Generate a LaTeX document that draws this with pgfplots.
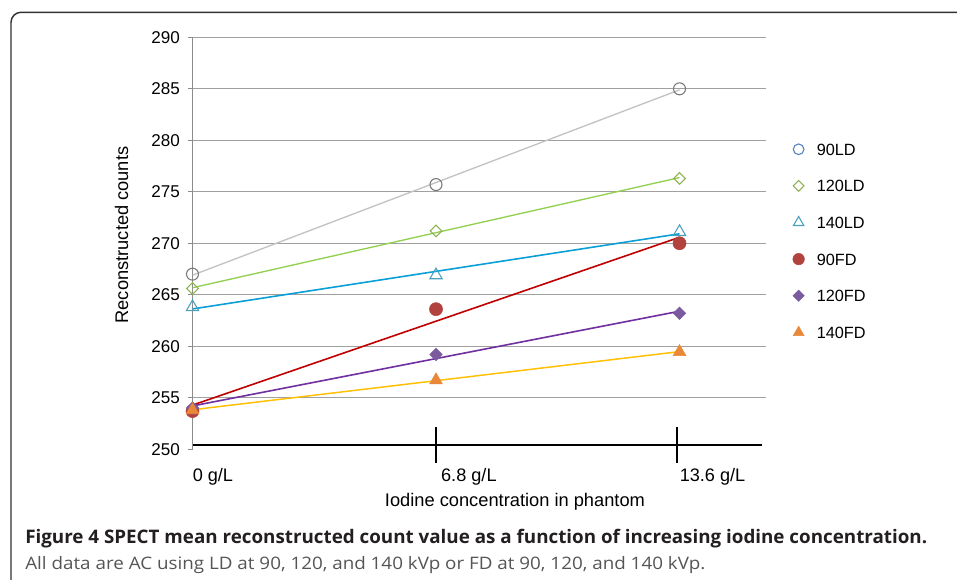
\documentclass[border=0pt]{standalone}
\usepackage{pgfplots}
\pgfplotsset{compat=1.18}
\usepackage{fontspec}
\setmainfont{Liberation Sans}
\newfontfamily\capfont{Open Sans}
\usepackage{graphicx}

\definecolor{ldninetyline}{RGB}{195,195,195}
\definecolor{ldninetymark}{RGB}{120,120,120}
\definecolor{ldonetwentyline}{RGB}{146,208,80}
\definecolor{ldonetwentymark}{RGB}{140,178,80}
\definecolor{ldonefortyline}{RGB}{10,160,215}
\definecolor{ldonefortymark}{RGB}{75,160,190}
\definecolor{fdninetyline}{RGB}{192,0,0}
\definecolor{fdninetymark}{RGB}{178,66,62}
\definecolor{fdonetwentyline}{RGB}{112,48,160}
\definecolor{fdonetwentymark}{RGB}{122,92,158}
\definecolor{fdonefortyline}{RGB}{255,192,0}
\definecolor{fdonefortymark}{RGB}{232,136,56}
\definecolor{legninety}{RGB}{79,129,189}
\definecolor{gridgray}{RGB}{160,160,160}
\definecolor{axgray}{RGB}{140,140,140}
\definecolor{capdark}{RGB}{35,31,32}
\definecolor{capgray}{RGB}{85,85,85}
\definecolor{framegray}{RGB}{50,50,50}

\begin{document}
\begin{tikzpicture}[x=0.75pt,y=0.75pt]
\path[use as bounding box] (0,0) rectangle (957,579);
\clip (0,0) rectangle (957,579);
\fill[white] (0,0) rectangle (957,579);
\draw[framegray, line width=1.1pt, rounded corners=7.5pt] (11,-40) rectangle (1000,566.7);

\begin{axis}[
  at={(144.375pt,97.35pt)}, anchor=south west, scale only axis,
  width=430.1pt, height=308.9pt,
  xmin=0, xmax=2.355, ymin=250, ymax=290,
  /pgf/number format/assume math mode=true,
  axis x line*=bottom, axis y line*=left,
  x axis line style={-, black, line width=1.1pt, yshift=3pt, shorten >=3pt},
  y axis line style={-, axgray, line width=0.8pt},
  tick align=outside, major tick length=3.75pt,
  ytick={255,260,...,290},
  extra y ticks={250},
  extra y tick style={ymajorgrids=false},
  ytick style={axgray, line width=0.8pt},
  yticklabel style={anchor=east, inner sep=0pt, xshift=-5.6pt, font=\fontsize{12.8}{13}\selectfont},
  ymajorgrids, grid style={gridgray, line width=0.9pt},
  xtick={0,1.02,2},
  xticklabels={0 g/L, 6.8 g/L, 13.6 g/L},
  xtick style={draw=none},
  xticklabel style={anchor=north west, inner sep=0pt, yshift=-10.5pt, font=\fontsize{13.6}{14}\selectfont},
  extra x ticks={1,1.99},
  extra x tick labels={,},
  extra x tick style={major tick length=27pt, tick align=center, xtick style={draw=black, line width=1pt, yshift=3pt}},
  xlabel={Iodine concentration in phantom},
  xlabel style={at={(axis description cs:0.5623,-0.138)}, anchor=base, inner sep=0pt, font=\fontsize{13.7}{14}\selectfont},
  ylabel={Reconstructed counts},
  ylabel style={at={(axis description cs:-0.1238,0.52)}, anchor=center, inner sep=0pt, font=\fontsize{13.7}{14}\selectfont},
  legend style={at={(1.0465,0.7434)}, anchor=north west, draw=none, fill=none, inner sep=0pt,
    row sep=18.45pt, column sep=9.3pt, font=\fontsize{12.2}{12.2}\selectfont,
    nodes={inner sep=0pt, text height=9pt, text depth=0pt}},
  legend cell align=left,
]
% trend lines
\addplot[forget plot, ldninetyline, line width=1pt] coordinates {(0,266.9) (2,284.9)};
\addplot[forget plot, ldonetwentyline, line width=1pt] coordinates {(0,265.68) (2,276.38)};
\addplot[forget plot, ldonefortyline, line width=1.2pt] coordinates {(0,263.62) (2,270.92)};
\addplot[forget plot, fdninetyline, line width=1.2pt] coordinates {(0,254.28) (2,270.58)};
\addplot[forget plot, fdonetwentyline, line width=1.2pt] coordinates {(0,254.2) (2,263.4)};
\addplot[forget plot, fdonefortyline, line width=1.1pt] coordinates {(0,253.83) (2,259.48)};
% data points
\addplot[forget plot, only marks, mark=*, mark size=4.5pt, mark options={draw=ldninetymark, fill=white, fill opacity=0, line width=0.8pt}] coordinates {(0,267.0) (1,275.7) (2,285.0)};
\addplot[forget plot, only marks, mark=square, mark size=3.1pt, mark options={draw=ldonetwentymark, rotate=45, line width=0.8pt}] coordinates {(0,265.6) (1,271.2) (2,276.3)};
\addplot[forget plot, only marks, mark=triangle, mark size=5.3pt, mark options={draw=ldonefortymark, line width=0.8pt}] coordinates {(0,263.8) (1,266.9) (2,271.1)};
\addplot[forget plot, only marks, mark=*, mark size=4.9pt, mark options={draw=fdninetymark, fill=fdninetymark}] coordinates {(0,253.7) (1,263.6) (2,270.0)};
\addplot[forget plot, only marks, mark=square*, mark size=3.3pt, mark options={draw=fdonetwentymark, fill=fdonetwentymark, rotate=45}] coordinates {(0,254.0) (1,259.2) (2,263.2)};
\addplot[forget plot, only marks, mark=triangle*, mark size=5.5pt, mark options={draw=fdonefortymark, fill=fdonefortymark}] coordinates {(0,253.8) (1,256.7) (2,259.45)};
% legend
\addlegendimage{only marks, mark=o, mark size=4pt, mark options={draw=legninety, line width=0.8pt}}
\addlegendentry{90LD}
\addlegendimage{only marks, mark=square, mark size=2.8pt, mark options={draw=ldonetwentymark, rotate=45, line width=0.8pt}}
\addlegendentry{120LD}
\addlegendimage{only marks, mark=triangle, mark size=4.5pt, mark options={draw=ldonefortymark, line width=0.8pt}}
\addlegendentry{140LD}
\addlegendimage{only marks, mark=*, mark size=4.3pt, mark options={draw=fdninetymark, fill=fdninetymark}}
\addlegendentry{90FD}
\addlegendimage{only marks, mark=square*, mark size=3pt, mark options={draw=fdonetwentymark, fill=fdonetwentymark, rotate=45}}
\addlegendentry{120FD}
\addlegendimage{only marks, mark=triangle*, mark size=4.7pt, mark options={draw=fdonefortymark, fill=fdonefortymark}}
\addlegendentry{140FD}
\end{axis}

\node[anchor=base west, inner sep=0pt, text=capdark] at (25,35.7)
  {\resizebox{676.5pt}{\height}{\capfont\fontsize{14}{16}\selectfont\bfseries Figure 4 SPECT mean reconstructed count value as a function of increasing iodine concentration.}};
\node[anchor=base west, inner sep=0pt, text=capgray] at (25,10)
  {\resizebox{510pt}{\height}{\capfont\fontsize{12.9}{15}\selectfont All data are AC using LD at 90, 120, and 140 kVp or FD at 90, 120, and 140 kVp.}};
\end{tikzpicture}
\end{document}
